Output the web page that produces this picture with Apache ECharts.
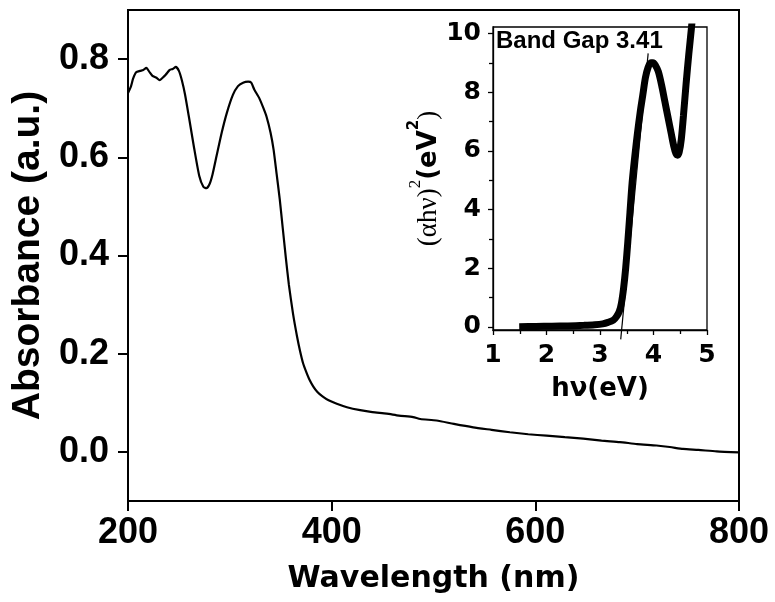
<!DOCTYPE html>
<html>
<head>
<meta charset="utf-8">
<script src="https://cdn.jsdelivr.net/npm/echarts@6/dist/echarts.min.js"></script>
<style>html,body{margin:0;padding:0;background:#fff}#c{width:775px;height:602px}</style>
</head>
<body>
<div id="c"></div>
<script>
// Main spectrum
const wavelength = [200,203,205,208,212,215,218,221,224,228,231,234,237,241,244,247,250,253,256,260,265,270,274,277,280,283,287,292,297,303,308,313,318,321,324,329,333,336,340,343,346,349,352,355,358,362,366,369,372,375,378,382,386,391,397,405,415,428,440,454,466,480,487,503,520,539,557,575,593,611,629,647,665,683,700,719,732,745,760,778,800];
const absorbance = [0.731,0.745,0.760,0.773,0.776,0.778,0.782,0.774,0.766,0.762,0.757,0.762,0.768,0.778,0.780,0.784,0.776,0.756,0.728,0.680,0.618,0.562,0.540,0.537,0.545,0.565,0.603,0.650,0.690,0.727,0.745,0.752,0.754,0.752,0.738,0.720,0.700,0.683,0.650,0.615,0.565,0.515,0.455,0.395,0.340,0.282,0.235,0.205,0.180,0.163,0.148,0.133,0.122,0.113,0.105,0.098,0.091,0.085,0.081,0.078,0.074,0.071,0.067,0.064,0.057,0.050,0.045,0.040,0.036,0.033,0.030,0.027,0.023,0.020,0.016,0.013,0.010,0.006,0.004,0.001,-0.001];
const mainYTicks = [0, 0.2, 0.4, 0.6, 0.8];

// Inset Tauc plot
const photonEnergy = [1.49,1.8,2.1,2.4,2.7,2.9,3.05,3.15,3.25,3.31,3.36,3.40,3.44,3.48,3.52,3.56,3.60,3.65,3.70,3.75,3.80,3.85,3.90,3.95,3.99,4.04,4.09,4.15,4.21,4.27,4.33,4.38,4.42,4.45,4.48,4.52,4.56,4.61,4.66,4.71,4.76];
const taucValue = [0.0,0.01,0.02,0.03,0.05,0.07,0.10,0.15,0.23,0.35,0.52,0.80,1.3,2.0,2.9,3.9,4.9,5.8,6.6,7.3,7.9,8.5,8.85,9.0,9.0,8.9,8.7,8.25,7.7,7.15,6.6,6.15,5.9,5.85,5.95,6.4,7.2,8.3,9.3,10.2,11.2];
const tangentX = [3.387, 3.90];
const tangentY = [-0.43, 9.32];
const insetYTicks = [0, 2, 4, 6, 8, 10];
const insetYMinor = [1, 3, 5, 7, 9];
const bandGapText = 'Band Gap 3.41';

const zip = (a, b) => a.map((v, i) => [v, b[i]]);
const SANS = 'Liberation Sans, Arial, sans-serif';
const WIDE = 'DejaVu Sans, sans-serif';

const chart = echarts.init(document.getElementById('c'), null, {renderer: 'canvas'});
chart.setOption({
  animation: false,
  backgroundColor: '#fff',
  title: {
    text: bandGapText, left: 496, top: 29, padding: 0,
    textStyle: {fontFamily: SANS, fontWeight: 'bold', fontSize: 24, color: '#000'}
  },
  grid: [
    {left: 128, right: 36, top: 10, bottom: 101, show: true, borderColor: '#000', borderWidth: 2},
    {left: 493, right: 68, top: 27, bottom: 272, show: true, borderColor: '#000', borderWidth: 1.3}
  ],
  xAxis: [
    {
      gridIndex: 0, type: 'value', min: 200, max: 800, interval: 200,
      axisLine: {onZero: false, lineStyle: {color: '#000', width: 2}},
      axisTick: {length: 10, lineStyle: {color: '#000', width: 2}},
      axisLabel: {fontFamily: SANS, fontWeight: 'bold', fontSize: 36, color: '#000', margin: 14},
      splitLine: {show: false},
      name: 'Wavelength (nm)', nameLocation: 'middle', nameGap: 63,
      nameTextStyle: {fontFamily: WIDE, fontWeight: 'bold', fontSize: 30, color: '#000'}
    },
    {
      gridIndex: 1, type: 'value', min: 1, max: 5, interval: 1,
      axisLine: {onZero: false, lineStyle: {color: '#000', width: 1.3}},
      axisTick: {length: 5, lineStyle: {color: '#000', width: 1.3}},
      minorTick: {show: true, splitNumber: 2, length: 4, lineStyle: {color: '#000', width: 1.3}},
      axisLabel: {fontFamily: WIDE, fontWeight: 'bold', fontSize: 25, color: '#000', margin: 13},
      splitLine: {show: false},
      name: 'hν(eV)', nameLocation: 'middle', nameGap: 46,
      nameTextStyle: {fontFamily: WIDE, fontWeight: 'bold', fontSize: 26, color: '#000'}
    }
  ],
  yAxis: [
    {
      gridIndex: 0, type: 'value', min: -0.1, max: 0.9, position: 'left',
      axisLine: {show: true, onZero: false, lineStyle: {color: '#000', width: 2}},
      axisTick: {show: true, length: 10, customValues: mainYTicks, lineStyle: {color: '#000', width: 2}},
      axisLabel: {customValues: mainYTicks, formatter: v => Number(v).toFixed(1), fontFamily: SANS, fontWeight: 'bold', fontSize: 36, color: '#000', margin: 19},
      splitLine: {show: false},
      name: 'Absorbance (a.u.)', nameLocation: 'middle', nameGap: 80, nameRotate: 90,
      nameTextStyle: {fontFamily: SANS, fontWeight: 'bold', fontSize: 39, color: '#000'}
    },
    {
      gridIndex: 1, type: 'value', min: -0.11, max: 10.22, position: 'left',
      axisLine: {show: true, onZero: false, lineStyle: {color: '#000', width: 1.3}},
      axisTick: {show: true, length: 5, customValues: insetYTicks, lineStyle: {color: '#000', width: 1.3}},
      axisLabel: {customValues: insetYTicks, fontFamily: WIDE, fontWeight: 'bold', fontSize: 25, color: '#000', margin: 12},
      splitLine: {show: false},
      name: '{a|(αhν)}{s|2}{b|(eV}{t|2}{a|)}', nameLocation: 'middle', nameGap: 30, nameRotate: 90,
      nameTextStyle: {
        color: '#000',
        rich: {
          a: {fontFamily: 'Liberation Serif, serif', fontSize: 27, color: '#000', lineHeight: 44, verticalAlign: 'middle'},
          b: {fontFamily: WIDE, fontWeight: 'bold', fontSize: 26, color: '#000', lineHeight: 44, verticalAlign: 'middle'},
          s: {fontFamily: 'Liberation Serif, serif', fontSize: 17, color: '#000', lineHeight: 16, verticalAlign: 'top'},
          t: {fontFamily: WIDE, fontWeight: 'bold', fontSize: 15, color: '#000', lineHeight: 16, verticalAlign: 'top'}
        }
      }
    },
    {
      gridIndex: 1, type: 'value', min: -0.11, max: 10.22, position: 'left', offset: 0,
      axisLine: {show: false},
      axisTick: {show: true, length: 4, customValues: insetYMinor, lineStyle: {color: '#000', width: 1.3}},
      axisLabel: {show: false},
      splitLine: {show: false}
    }
  ],
  series: [
    {
      type: 'line', xAxisIndex: 0, yAxisIndex: 0, data: zip(wavelength, absorbance),
      showSymbol: false, smooth: 0.2, lineStyle: {color: '#000', width: 2.2}
    },
    {
      type: 'line', xAxisIndex: 1, yAxisIndex: 1, data: zip(photonEnergy, taucValue),
      showSymbol: false, smooth: 0.3, clip: true, lineStyle: {color: '#000', width: 7}
    },
    {
      type: 'line', xAxisIndex: 1, yAxisIndex: 1, data: zip(tangentX, tangentY),
      showSymbol: false, clip: false, lineStyle: {color: '#000', width: 1.2}
    }
  ]
});
</script>
</body>
</html>
